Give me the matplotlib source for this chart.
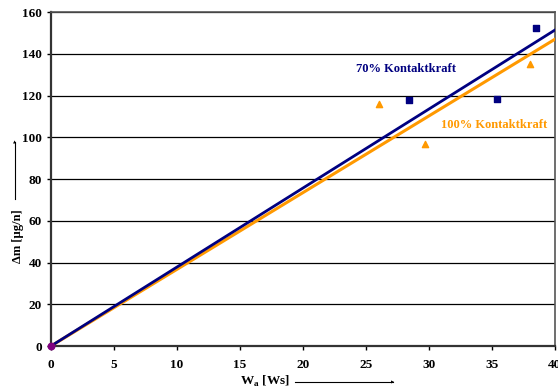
import matplotlib.pyplot as plt
import numpy as np

plt.rcParams['font.family'] = ['Liberation Serif', 'DejaVu Serif']
plt.rcParams['font.weight'] = 'bold'
plt.rcParams['mathtext.fontset'] = 'custom'
plt.rcParams['mathtext.bf'] = 'Liberation Serif:bold'
plt.rcParams['mathtext.rm'] = 'Liberation Serif:bold'

# measured points
w_70 = [28.4, 35.4, 38.5]
dm_70 = [117.8, 118.3, 152.3]
w_100 = [26.0, 29.7, 38.0]
dm_100 = [116.0, 96.8, 135.0]

# slopes of the fitted lines through the origin
slope_70 = 3.785
slope_100 = 3.675

navy = '#000080'
orange = '#FF9900'

fig = plt.figure(figsize=(5.58, 3.89), dpi=100)
ax = fig.add_axes([0.0914, 0.1105, 0.9032, 0.8585])

xs = np.array([0, 40])
ax.plot(xs, slope_100 * xs, color=orange, lw=2.2, zorder=3)
ax.plot(xs, slope_70 * xs, color=navy, lw=2.0, zorder=3)
ax.scatter(w_70, dm_70, marker='s', s=18, color=navy, zorder=4)
ax.scatter(w_100, dm_100, marker='^', s=20, color=orange, zorder=4)
ax.scatter([0], [0], marker='o', s=22, color='#800080', zorder=5, clip_on=False)

ax.set_xlim(0, 40)
ax.set_ylim(0, 160)
ax.set_xticks(range(0, 41, 5))
ax.set_yticks(range(0, 161, 20))
ax.tick_params(labelsize=9.5, length=3, direction='out', width=1)
ax.tick_params(axis='x', pad=6)
ax.grid(axis='y', color='black', lw=0.9)
ax.set_axisbelow(True)
for s in ['left', 'bottom']:
    ax.spines[s].set_linewidth(1.6)
    ax.spines[s].set_color('#333333')
for s in ['top', 'right']:
    ax.spines[s].set_linewidth(1.2)
    ax.spines[s].set_color('#555555')

ax.text(28.2, 132.7, '70% Kontaktkraft', color=navy, fontsize=9, fontweight='bold', ha='center', va='center')
ax.text(35.2, 105.9, '100% Kontaktkraft', color=orange, fontsize=9, fontweight='bold', ha='center', va='center')

# axis labels with arrows
fig.text(18 / 558, 1 - 236 / 389, 'Δm [µg/n]', rotation=90, fontsize=9, fontweight='bold', ha='center', va='center')
fig.add_artist(plt.Line2D([15 / 558, 15 / 558], [1 - 199 / 389, 1 - 142 / 389], color='black', lw=0.8))
fig.text(15 / 558, 1 - 142 / 389, '▲', fontsize=3, ha='center', va='center', family='DejaVu Sans')
fig.text(265 / 558, 1 - 381 / 389, r'W$_\mathbf{a}$ [Ws]', fontsize=9.5, fontweight='bold', ha='center', va='center')
fig.add_artist(plt.Line2D([295 / 558, 393 / 558], [1 - 382 / 389, 1 - 382 / 389], color='black', lw=0.8))
fig.text(393 / 558, 1 - 382 / 389, '▶', fontsize=3, ha='center', va='center', family='DejaVu Sans')

fig.savefig('out.png', dpi=100)
